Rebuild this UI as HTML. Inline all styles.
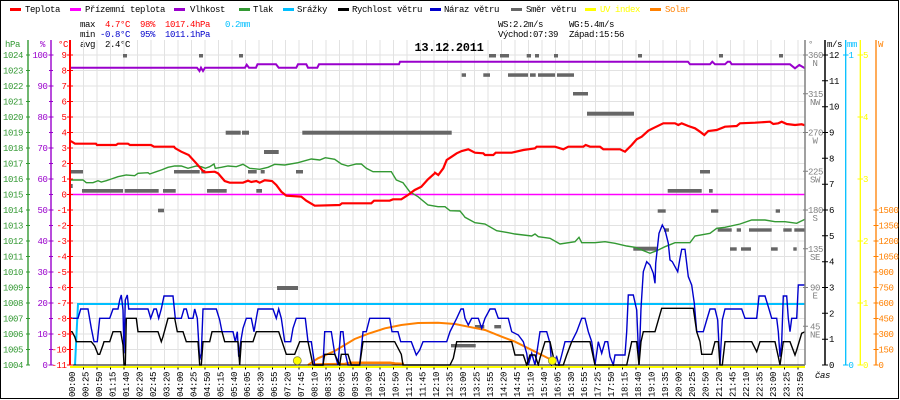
<!DOCTYPE html>
<html><head><meta charset="utf-8"><style>
html,body{margin:0;padding:0;background:#fff;}
svg{display:block;}
text{font-family:"Liberation Mono",monospace;font-size:9px;letter-spacing:-0.4px;}
</style></head><body>
<svg width="900" height="400" viewBox="0 0 900 400" xmlns="http://www.w3.org/2000/svg">
<rect x="0" y="0" width="900" height="400" fill="#fff"/>
<rect x="0.5" y="0.5" width="898" height="398" fill="none" stroke="#000" stroke-width="1"/>

<!-- legend -->
<g>
<rect x="10" y="8" width="11" height="3" fill="#ff0000"/><text x="25" y="12">Teplota</text>
<rect x="70" y="8" width="11" height="3" fill="#ff00ff"/><text x="85" y="12">Přízemní teplota</text>
<rect x="174" y="8" width="11" height="3" fill="#9900cc"/><text x="190" y="12">Vlhkost</text>
<rect x="239" y="8" width="11" height="3" fill="#339933"/><text x="253" y="12">Tlak</text>
<rect x="283" y="8" width="11" height="3" fill="#00bfff"/><text x="297" y="12">Srážky</text>
<rect x="338" y="8" width="11" height="3" fill="#000"/><text x="352" y="12">Rychlost větru</text>
<rect x="430" y="8" width="11" height="3" fill="#0000cc"/><text x="444" y="12">Náraz větru</text>
<rect x="511" y="8" width="11" height="3" fill="#666"/><text x="526" y="12">Směr větru</text>
<rect x="585" y="8" width="11" height="3" fill="#ffff00"/><text x="600" y="12" fill="#ffff00">UV index</text>
<rect x="650" y="8" width="11" height="3" fill="#ff8000"/><text x="665" y="12" fill="#ff8000">Solar</text>
</g>

<!-- stats -->
<text x="80" y="27">max</text>
<text x="105" y="27" fill="#ff0000">4.7°C</text>
<text x="140" y="27" fill="#ff0000">98%</text>
<text x="165" y="27" fill="#ff0000">1017.4hPa</text>
<text x="225" y="27" fill="#00bfff">0.2mm</text>
<text x="498" y="27">WS:2.2m/s</text>
<text x="569" y="27">WG:5.4m/s</text>
<text x="80" y="37">min</text>
<text x="100" y="37" fill="#0000cc">-0.8°C</text>
<text x="140" y="37" fill="#0000cc">95%</text>
<text x="165" y="37" fill="#0000cc">1011.1hPa</text>
<text x="498" y="37">Východ:07:39</text>
<text x="569" y="37">Západ:15:56</text>
<text x="80" y="47">avg</text>
<text x="105" y="47">2.4°C</text>
<text x="5" y="47" fill="#339933">hPa</text>
<text x="40" y="47" fill="#9900cc">%</text>
<text x="58" y="47" fill="#ff0000">°C</text>
<text x="808" y="47" fill="#808080">°</text>
<text x="827" y="47">m/s</text>
<text x="847" y="47" fill="#00bfff">mm</text>
<text x="878" y="47" fill="#ff8000">W</text>

<!-- grid -->
<path d="M83.5 40V365M97 40V365M110.5 40V365M124 40V365M137.5 40V365M151 40V365M164.5 40V365M178 40V365M191.5 40V365M205 40V365M218.5 40V365M232 40V365M245.5 40V365M259 40V365M272.5 40V365M285.5 40V365M299 40V365M312.5 40V365M326 40V365M339.5 40V365M353 40V365M366.5 40V365M380 40V365M393.5 40V365M407 40V365M420.5 40V365M434 40V365M447.5 40V365M461 40V365M474.5 40V365M488 40V365M501.5 40V365M515 40V365M528.5 40V365M542 40V365M555.5 40V365M569 40V365M582.5 40V365M595.5 40V365M609 40V365M622.5 40V365M636 40V365M649.5 40V365M663 40V365M676.5 40V365M690 40V365M703.5 40V365M717 40V365M730.5 40V365M744 40V365M757.5 40V365M771 40V365M784.5 40V365M798 40V365" stroke="#e2e2e2" stroke-width="1" fill="none"/>
<path d="M70 55H805M70 70.5H805M70 86H805M70 101.5H805M70 117H805M70 132.5H805M70 148H805M70 163.5H805M70 179H805M70 194.5H805M70 210H805M70 225.5H805M70 241H805M70 256.5H805M70 272H805M70 287.5H805M70 303H805M70 318.5H805M70 334H805M70 349.5H805" stroke="#e2e2e2" stroke-width="1" fill="none"/>

<!-- title -->
<text x="449" y="51" text-anchor="middle" style="font-size:12px;font-weight:bold;letter-spacing:-0.3px">13.12.2011</text>

<!-- wind direction rects -->
<g fill="#666">
<rect x="123" y="54" width="4" height="3.5"/><rect x="199" y="54" width="4" height="3.5"/><rect x="239" y="54" width="4" height="3.5"/>
<rect x="489" y="54" width="7" height="3.5"/><rect x="500" y="54" width="9" height="3.5"/><rect x="526.7" y="54" width="4.3" height="3.5"/>
<rect x="535" y="54" width="4" height="3.5"/><rect x="554" y="54" width="4" height="3.5"/><rect x="638" y="54" width="4" height="3.5"/>
<rect x="719" y="54" width="4" height="3.5"/><rect x="779" y="54" width="4" height="3.5"/>
<rect x="461.7" y="73.3" width="4.3" height="3.5"/><rect x="483.3" y="73.3" width="6.7" height="3.5"/><rect x="508" y="73.3" width="20" height="3.5"/>
<rect x="530" y="73.3" width="5.7" height="3.5"/><rect x="538" y="73.3" width="17" height="3.5"/><rect x="557" y="73.3" width="17" height="3.5"/>
<rect x="573" y="92" width="15" height="3.5"/>
<rect x="587" y="111.7" width="47" height="4"/>
<rect x="225.7" y="130.7" width="15" height="4"/><rect x="242" y="130.7" width="7" height="4"/><rect x="302.3" y="130.7" width="149.4" height="4"/>
<rect x="264" y="150" width="14.7" height="4"/>
<rect x="70.7" y="170" width="12.3" height="3.5"/><rect x="174" y="170" width="25.7" height="3.5"/><rect x="201.3" y="170" width="4" height="3.5"/>
<rect x="248" y="170" width="8.7" height="3.5"/><rect x="260.7" y="170" width="4" height="3.5"/><rect x="296" y="170" width="7" height="3.5"/>
<rect x="700" y="170" width="10" height="3.5"/>
<rect x="69" y="184" width="3.7" height="4"/>
<rect x="82" y="189" width="41" height="3.7"/><rect x="124.7" y="189" width="34" height="3.7"/><rect x="163" y="189" width="12.7" height="3.7"/>
<rect x="207" y="189" width="19.7" height="3.7"/><rect x="256.3" y="189" width="5.7" height="3.7"/><rect x="667.7" y="189" width="34" height="3.7"/>
<rect x="709" y="189" width="3.7" height="3.7"/>
<rect x="158" y="208.7" width="6" height="3.6"/><rect x="657.7" y="209.3" width="8" height="3.4"/><rect x="711" y="209.3" width="7.3" height="3.4"/>
<rect x="775.7" y="209.3" width="4.3" height="3.4"/>
<rect x="664" y="228.3" width="5" height="3.4"/><rect x="717.7" y="228.3" width="14" height="3.4"/><rect x="736.7" y="228.3" width="4.3" height="3.4"/>
<rect x="749" y="228.3" width="22.7" height="3.4"/><rect x="783.3" y="228.3" width="8.4" height="3.4"/><rect x="794.3" y="228.3" width="10.7" height="3.4"/>
<rect x="633.3" y="246.7" width="23.4" height="4"/><rect x="730" y="247.3" width="6.7" height="3.4"/><rect x="741" y="247.3" width="10" height="3.4"/>
<rect x="771" y="247.3" width="6.7" height="3.4"/><rect x="793.3" y="247.3" width="3.4" height="3.4"/>
<rect x="277" y="286" width="21" height="4"/>
<rect x="475" y="325" width="9.3" height="3.4"/><rect x="494.3" y="325" width="6.7" height="3.4"/>
<rect x="451" y="344" width="24.7" height="3.4"/>
</g>

<!-- apparent temp -->
<path d="M70 194.5H805" stroke="#ff00ff" stroke-width="1.5" fill="none"/>

<!-- rain -->
<path d="M75 365L78 304H805" stroke="#00bfff" stroke-width="2" fill="none"/>

<!-- humidity -->
<path d="M70.7,67.7 L197,67.7 L199.5,71 L201,67.7 L203,71 L205,67.7 L245,67.7 L246.7,64.7 L249,67.7 L256,67.7 L257.5,64.3 L276,64.3 L278.7,67.7 L296.3,67.7 L298,64.3 L306.3,64.3 L308,67.7 L317.3,67.7 L319,64.3 L399,64.3 L400,61.7 L688,61.7 L690,64.3 L710,64.3 L712.3,61.7 L715,64.3 L725,64.3 L727.7,61.7 L730,61.7 L731.7,64.3 L790,64.3 L795,68.3 L799.3,65 L805,68.3" stroke="#9900cc" stroke-width="2" fill="none"/>

<!-- pressure -->
<path d="M70.7,180 L83,180 L86.3,182.7 L93,182.7 L98,180.7 L101.3,182 L106.3,180.7 L111.3,179 L118,176.7 L126.3,175 L134.7,175.7 L138,173.3 L148,172.7 L149.7,174 L156.3,171.7 L161.3,170 L168,167.3 L174.7,166 L181.3,166 L188,168.3 L196.3,166 L201.3,166.7 L205.3,168.3 L209.7,166.7 L214,164 L215.3,168.3 L221.3,167.3 L228,166 L236.3,166.7 L243,164.3 L249.7,168.3 L259.7,169.3 L268,167.3 L274.7,164.3 L284.7,165 L298,162.7 L311.3,159 L319.7,160 L325.3,157.7 L334.7,159.3 L341.3,164 L348,166 L356.3,164 L361.3,164 L366.3,168.3 L373,171.7 L391.3,171.7 L396.3,180 L403,182.7 L409.7,191.7 L418,196.7 L428,205 L438,206.7 L445,206.7 L450,210.7 L460,211 L463.3,215 L465,217.3 L475,222.7 L485,224 L496.7,230.7 L508.3,232.7 L515,234 L531.7,236 L535,234 L538.3,236.7 L550,238.3 L560,244 L575,241.7 L579,237.3 L581.7,242.7 L595,242.7 L605,241.7 L615,243.3 L626.7,246 L635,247.3 L650,253.3 L656.7,250.7 L665,246.7 L675,242.7 L690,242.7 L695,236 L710,233.3 L716.7,228.3 L725,227.3 L740,224 L751.7,220 L765,220 L775,221.7 L785,221.7 L796.7,223.3 L805,219.3" stroke="#339933" stroke-width="1.4" fill="none"/>

<!-- temperature -->
<path d="M70.7,141 L75,143.7 L96,143.7 L97,145 L116,145 L118,143.7 L128,143.7 L130,145 L151,145 L154,146.7 L174,146.7 L175.3,148.3 L181.3,151.7 L188.7,155 L196.3,163.3 L203,171 L205.3,172.3 L214.7,171.7 L218,173.3 L224.7,181 L229.7,182.7 L243,182.7 L248,180.7 L251.3,182 L256.3,181 L259.7,182.7 L264.7,180.3 L272,181 L276.3,185 L281.3,191.7 L286.3,195.7 L301.3,196.7 L306.3,200.7 L314.7,205.7 L339.7,205 L342,203.3 L371.3,203.3 L374,200.7 L389.7,200.7 L393,199.3 L401.3,199.3 L408,195 L414.7,190 L421.3,186.7 L428,179.3 L434.7,173.3 L435,172.7 L438.3,175 L443.3,168.3 L446.7,160 L451.7,156.7 L456.7,153.3 L461.7,151 L468.3,149.3 L475,152.7 L483.3,153.3 L485,155 L493.3,155 L495.7,152.7 L511.7,152.7 L523.3,150 L535,148.3 L536.7,146.7 L555,146.7 L563.3,149.3 L568.3,146.7 L583.3,146.7 L585.7,145 L590,146.7 L600,146.7 L603.3,149.3 L620,149.3 L625,151.7 L631.7,145 L636.7,139.3 L641.7,136.7 L648.3,130.7 L655,127.3 L663.3,123.3 L675,123.3 L678.3,125 L681.7,123.3 L688.3,126 L695,128.3 L700,131.7 L704.3,135 L708.3,131 L716.7,130 L725,126.7 L736.7,126 L740,123.3 L755,122.7 L770,121.7 L773.3,124 L778.3,123.3 L781.7,121.7 L786.7,124 L795,125 L801.7,124.3 L805,125.3" stroke="#ff0000" stroke-width="2.2" fill="none"/>

<!-- solar -->
<path d="M308,365 L318,358.3 L334.7,351 L344.7,345 L354.7,339 L368,333.8 L385,328.3 L401.3,325 L418,323 L438,322.7 L455,324 L468.3,326.7 L485,330 L501.7,336.7 L515,341.7 L528.3,348.3 L541.7,355 L551.7,360" stroke="#ff8000" stroke-width="2" fill="none"/>
<path d="M313,364.5 L345,364 L350,362.7 L390,362.7 L395,363.5 L404,364" stroke="#ff8000" stroke-width="2.5" fill="none"/>

<!-- gust -->
<path d="M70,316.7 L71.3,318.3 L78,318.3 L80.7,309 L88,309 L91.3,328.3 L94,341.7 L97.3,341.7 L99.7,318.3 L109.7,318.3 L113,309 L118,309 L119.7,300 L121.3,295 L123,310 L124,353.3 L125.3,300 L127.3,295 L128.7,309 L148,309 L150.7,318.3 L154,309 L156.3,309 L158.7,318.3 L161.3,309 L164,296 L173,296 L175.3,318.3 L181.3,318.3 L184,309 L186.3,309 L188.7,318.3 L193,318.3 L194.7,309 L197.3,318.3 L199.7,360 L201.3,353.3 L203,309 L216.3,309 L219.7,320 L222,331.7 L233,331.7 L235.3,341.7 L237.3,331.7 L238.7,356.7 L240.7,341.7 L243,328.3 L246.3,318.3 L251.3,318.3 L254,331.7 L256.3,318.3 L258,309 L273,309 L276.3,318.3 L278.7,309 L281.3,318.3 L284.7,341.7 L290.7,341.7 L293,328.3 L296.3,318.3 L305.3,318.3 L308,341.7 L311.3,341.7 L314.7,365 L323,365 L324.7,331.7 L331.3,331.7 L334.7,353.3 L338,365 L340.7,331.7 L343,331.7 L345.3,353.3 L348,365 L359.7,365 L363,331.7 L366.3,331.7 L369.7,318.3 L389.7,318.3 L392,331.7 L398,331.7 L400.7,341.7 L411.3,341.7 L416.3,355 L419.7,350 L423,341.7 L446.7,341.7 L450,331.7 L456.7,318.3 L461,309 L463.3,309 L465,318.3 L468.3,325 L471.7,318.3 L478.3,318.3 L481.7,328.3 L485,318.3 L490,309 L495,309 L498.3,318.3 L508.3,318.3 L511.7,331.7 L518.3,335 L523.3,341.7 L526.7,353.3 L528.3,365 L531.7,353.3 L535,365 L540,331.7 L546.7,331.7 L550,343.3 L551.7,365 L556.7,356.7 L559,365 L561.7,355 L565,341.7 L571.7,341.7 L576.7,331.7 L581.7,318.3 L585,318.3 L588.3,331.7 L591.7,341.7 L595,365 L598.3,341.7 L601.7,353.3 L605,341.7 L607.7,341.7 L610,356.7 L613.3,365 L615,355 L625,355 L626.7,331.7 L628.3,295 L633.3,295 L636.7,310 L639,365 L641,308.3 L643.3,271.7 L646.7,261.7 L650,265 L653.3,273.3 L655,283.3 L655.7,263.3 L659,233.3 L662.3,225 L665,230 L668.3,243.3 L670,260 L672.3,261.7 L675,266.7 L677.7,271.7 L680,258.3 L681.7,249.3 L685,249.3 L688.3,276.7 L691.7,285 L694.3,303.3 L696.7,331.7 L703.3,331.7 L706.7,320 L710,309 L715,309 L717.7,320 L720,365 L722.3,320 L725,309 L741.7,309 L745,318.3 L756.7,318.3 L759,296 L765,296 L768.3,306.7 L771.7,318.3 L776.7,318.3 L778.3,331.7 L780,356.7 L781.7,341.7 L783.3,296 L786.7,296 L788.3,318.3 L790,331.7 L791.7,318.3 L796.7,318.3 L798.3,285 L805,285" stroke="#0000cc" stroke-width="1.4" fill="none"/>

<!-- wind speed -->
<path d="M70,331.7 L72,331.7 L74.7,336.7 L76.3,341.7 L91.3,341.7 L94.7,346 L98,354.3 L99.7,354.3 L103,345 L104,341.7 L109.7,341.7 L113,331.7 L120.7,331.7 L123,345 L124,365 L125.3,365 L126.3,318.3 L136.3,318.3 L138,331.7 L158,331.7 L161.3,341.7 L163,336.7 L168,318.3 L174.7,318.3 L177.3,331.7 L183,331.7 L186.3,341.7 L198,341.7 L199.7,365 L201.3,365 L203,341.7 L209.7,341.7 L212,331.7 L222,331.7 L224.7,341.7 L238,341.7 L239.7,365 L241.3,341.7 L253,341.7 L256.3,331.7 L278.7,331.7 L286.3,354.3 L294.7,354.3 L299.7,341.7 L308,341.7 L313,365 L323,365 L324.7,354.3 L334.7,354.3 L339.7,365 L341.3,354.3 L348,354.3 L351.3,365 L359.7,365 L363,341.7 L394.7,341.7 L401.3,354.3 L403,365 L450,365 L453.3,358.3 L456.7,341.7 L511.7,341.7 L515,355 L523.3,355 L526.7,365 L530,355 L535,355 L538.3,365 L540,358 L545,341.7 L550,341.7 L553.3,356.7 L555.7,365 L563.3,365 L566.7,355 L571.7,341.7 L590,341.7 L595,365 L626.7,365 L631.7,341.7 L636.7,341.7 L639,365 L641,341.7 L643.3,331.7 L655,331.7 L661.7,308.3 L693.3,308.3 L696.7,331.7 L700,341.7 L701.7,354.3 L711.7,354.3 L715,341.7 L718.3,341.7 L720,365 L722.3,365 L725,341.7 L751.7,341.7 L756.7,351.7 L760,341.7 L775,341.7 L778.3,356.7 L780,365 L783.3,341.7 L790,341.7 L795,355 L796.7,350 L801.7,333.3 L805,331.7" stroke="#000" stroke-width="1.4" fill="none"/>

<!-- bottom axis + UV -->
<path d="M70 365H805" stroke="#000" stroke-width="1"/>
<path d="M70 367H805" stroke="#ffff00" stroke-width="2"/>
<path d="M83.5 367.5v2M97 367.5v2M110.5 367.5v2M124 367.5v2M137.5 367.5v2M151 367.5v2M164.5 367.5v2M178 367.5v2M191.5 367.5v2M205 367.5v2M218.5 367.5v2M232 367.5v2M245.5 367.5v2M259 367.5v2M272.5 367.5v2M285.5 367.5v2M299 367.5v2M312.5 367.5v2M326 367.5v2M339.5 367.5v2M353 367.5v2M366.5 367.5v2M380 367.5v2M393.5 367.5v2M407 367.5v2M420.5 367.5v2M434 367.5v2M447.5 367.5v2M461 367.5v2M474.5 367.5v2M488 367.5v2M501.5 367.5v2M515 367.5v2M528.5 367.5v2M542 367.5v2M555.5 367.5v2M569 367.5v2M582.5 367.5v2M595.5 367.5v2M609 367.5v2M622.5 367.5v2M636 367.5v2M649.5 367.5v2M663 367.5v2M676.5 367.5v2M690 367.5v2M703.5 367.5v2M717 367.5v2M730.5 367.5v2M744 367.5v2M757.5 367.5v2M771 367.5v2M784.5 367.5v2M798 367.5v2" stroke="#000" stroke-width="1"/>
<circle cx="297.3" cy="360.7" r="4" fill="#ffff00" stroke="#8a8a3a" stroke-width="0.8"/>
<circle cx="552.3" cy="360.7" r="4" fill="#ffff00" stroke="#8a8a3a" stroke-width="0.8"/>

<!-- left axes -->
<path d="M28 40V365" stroke="#339933" stroke-width="1.4"/>
<path d="M51 40V365" stroke="#9900cc" stroke-width="1.4"/>
<path d="M70 40V365" stroke="#ff0000" stroke-width="2"/>
<path d="M26 55h4M26 70.5h4M26 86h4M26 101.5h4M26 117h4M26 132.5h4M26 148h4M26 163.5h4M26 179h4M26 194.5h4M26 210h4M26 225.5h4M26 241h4M26 256.5h4M26 272h4M26 287.5h4M26 303h4M26 318.5h4M26 334h4M26 349.5h4M26 365h4" stroke="#339933" stroke-width="1"/>
<path d="M48.5 55h5M49 70.5h4M48.5 86h5M49 101.5h4M48.5 117h5M49 132.5h4M48.5 148h5M49 163.5h4M48.5 179h5M49 194.5h4M48.5 210h5M49 225.5h4M48.5 241h5M49 256.5h4M48.5 272h5M49 287.5h4M48.5 303h5M49 318.5h4M48.5 334h5M49 349.5h4M48.5 365h5" stroke="#9900cc" stroke-width="1"/>
<path d="M67 55h6M67 70.5h6M67 86h6M67 101.5h6M67 117h6M67 132.5h6M67 148h6M67 163.5h6M67 179h6M67 194.5h6M67 210h6M67 225.5h6M67 241h6M67 256.5h6M67 272h6M67 287.5h6M67 303h6M67 318.5h6M67 334h6M67 349.5h6M67 365h6" stroke="#ff0000" stroke-width="1"/>

<g fill="#339933" text-anchor="end">
<text x="23" y="58">1024</text><text x="23" y="73.5">1023</text><text x="23" y="89">1022</text><text x="23" y="104.5">1021</text>
<text x="23" y="120">1020</text><text x="23" y="135.5">1019</text><text x="23" y="151">1018</text><text x="23" y="166.5">1017</text>
<text x="23" y="182">1016</text><text x="23" y="197.5">1015</text><text x="23" y="213">1014</text><text x="23" y="228.5">1013</text>
<text x="23" y="244">1012</text><text x="23" y="259.5">1011</text><text x="23" y="275">1010</text><text x="23" y="290.5">1009</text>
<text x="23" y="306">1008</text><text x="23" y="321.5">1007</text><text x="23" y="337">1006</text><text x="23" y="352.5">1005</text>
<text x="23" y="368">1004</text>
</g>
<g fill="#9900cc" text-anchor="end">
<text x="47.5" y="58">100</text><text x="47.5" y="89">90</text><text x="47.5" y="120">80</text><text x="47.5" y="151">70</text>
<text x="47.5" y="182">60</text><text x="47.5" y="213">50</text><text x="47.5" y="244">40</text><text x="47.5" y="275">30</text>
<text x="47.5" y="306">20</text><text x="47.5" y="337">10</text><text x="47.5" y="368">0</text>
</g>
<g fill="#ff0000" text-anchor="end">
<text x="66.5" y="58">9</text><text x="66.5" y="73.5">8</text><text x="66.5" y="89">7</text><text x="66.5" y="104.5">6</text>
<text x="66.5" y="120">5</text><text x="66.5" y="135.5">4</text><text x="66.5" y="151">3</text><text x="66.5" y="166.5">2</text>
<text x="66.5" y="182">1</text><text x="66.5" y="197.5">0</text><text x="66.5" y="213">-1</text><text x="66.5" y="228.5">-2</text>
<text x="66.5" y="244">-3</text><text x="66.5" y="259.5">-4</text><text x="66.5" y="275">-5</text><text x="66.5" y="290.5">-6</text>
<text x="66.5" y="306">-7</text><text x="66.5" y="321.5">-8</text><text x="66.5" y="337">-9</text><text x="66.5" y="352.5">-10</text>
<text x="66.5" y="368">-11</text>
</g>

<!-- right axes -->
<path d="M805 40V365" stroke="#808080" stroke-width="1.5"/>
<path d="M825 40V365" stroke="#000" stroke-width="1.5"/>
<path d="M845.7 40V365" stroke="#00bfff" stroke-width="1.3"/>
<path d="M860.3 40V365" stroke="#ffff00" stroke-width="1.3"/>
<path d="M876 40V365" stroke="#ff8000" stroke-width="1.3"/>
<path d="M803 55h5M803 93.75h5M803 132.5h5M803 171.25h5M803 210h5M803 248.75h5M803 287.5h5M803 326.25h5" stroke="#808080" stroke-width="1"/>
<path d="M822 55h6M822 80.8h6M822 106.7h6M822 132.5h6M822 158.3h6M822 184.2h6M822 210h6M822 235.8h6M822 261.7h6M822 287.5h6M822 313.3h6M822 339.2h6M822 365h6" stroke="#000" stroke-width="1"/>
<path d="M843 55h5.5M843 365h5.5" stroke="#00bfff" stroke-width="1"/>
<path d="M857.5 55h5.5M857.5 117h5.5M857.5 179h5.5M857.5 241h5.5M857.5 303h5.5M857.5 365h5.5" stroke="#ffff00" stroke-width="1"/>
<path d="M873.5 210h5M873.5 225.5h5M873.5 241h5M873.5 256.5h5M873.5 272h5M873.5 287.5h5M873.5 303h5M873.5 318.5h5M873.5 334h5M873.5 349.5h5M873.5 365h5" stroke="#ff8000" stroke-width="1"/>

<g fill="#808080" text-anchor="middle">
<text x="815.5" y="58">360</text><text x="815" y="66">N</text>
<text x="815.5" y="96.75">315</text><text x="815" y="104.75">NW</text>
<text x="815.5" y="135.5">270</text><text x="815" y="143.5">W</text>
<text x="815.5" y="174.25">225</text><text x="815" y="182.25">SW</text>
<text x="815.5" y="213">180</text><text x="815" y="221">S</text>
<text x="815.5" y="251.75">135</text><text x="815" y="259.75">SE</text>
<text x="815" y="290.5">90</text><text x="815" y="298.5">E</text>
<text x="815" y="329.25">45</text><text x="815" y="337.25">NE</text>
</g>
<g fill="#000">
<text x="829" y="58">12</text><text x="829" y="83.8">11</text><text x="829" y="109.7">10</text><text x="829" y="135.5">9</text>
<text x="829" y="161.3">8</text><text x="829" y="187.2">7</text><text x="829" y="213">6</text><text x="829" y="238.8">5</text>
<text x="829" y="264.7">4</text><text x="829" y="290.5">3</text><text x="829" y="316.3">2</text><text x="829" y="342.2">1</text>
<text x="829" y="368">0</text>
</g>
<g fill="#00bfff"><text x="848.5" y="58">1</text><text x="848.5" y="368">0</text></g>
<g fill="#ffff00">
<text x="863" y="58">5</text><text x="863" y="120">4</text><text x="863" y="182">3</text><text x="863" y="244">2</text><text x="863" y="306">1</text><text x="863" y="368">0</text>
</g>
<g fill="#ff8000">
<text x="878.5" y="213">1500</text><text x="878.5" y="228.5">1350</text><text x="878.5" y="244">1200</text><text x="878.5" y="259.5">1050</text>
<text x="878.5" y="275">900</text><text x="878.5" y="290.5">750</text><text x="878.5" y="306">600</text><text x="878.5" y="321.5">450</text>
<text x="878.5" y="337">300</text><text x="878.5" y="352.5">150</text><text x="878.5" y="368">0</text>
</g>
<text x="815" y="378" style="font-style:italic">čas</text>

<!-- x labels -->
<g fill="#000">
<text transform="translate(75,397) rotate(-90)">00:00</text>
<text transform="translate(88.5,397) rotate(-90)">00:25</text>
<text transform="translate(102,397) rotate(-90)">00:50</text>
<text transform="translate(115.4,397) rotate(-90)">01:15</text>
<text transform="translate(128.9,397) rotate(-90)">01:40</text>
<text transform="translate(142.4,397) rotate(-90)">02:20</text>
<text transform="translate(155.9,397) rotate(-90)">02:45</text>
<text transform="translate(169.4,397) rotate(-90)">03:20</text>
<text transform="translate(182.8,397) rotate(-90)">04:00</text>
<text transform="translate(196.3,397) rotate(-90)">04:25</text>
<text transform="translate(209.8,397) rotate(-90)">04:50</text>
<text transform="translate(223.3,397) rotate(-90)">05:15</text>
<text transform="translate(236.8,397) rotate(-90)">05:40</text>
<text transform="translate(250.2,397) rotate(-90)">06:05</text>
<text transform="translate(263.7,397) rotate(-90)">06:30</text>
<text transform="translate(277.2,397) rotate(-90)">06:55</text>
<text transform="translate(290.7,397) rotate(-90)">07:20</text>
<text transform="translate(304.2,397) rotate(-90)">07:45</text>
<text transform="translate(317.6,397) rotate(-90)">08:10</text>
<text transform="translate(331.1,397) rotate(-90)">08:35</text>
<text transform="translate(344.6,397) rotate(-90)">09:05</text>
<text transform="translate(358.1,397) rotate(-90)">09:35</text>
<text transform="translate(371.6,397) rotate(-90)">10:00</text>
<text transform="translate(385,397) rotate(-90)">10:25</text>
<text transform="translate(398.5,397) rotate(-90)">10:50</text>
<text transform="translate(412,397) rotate(-90)">11:20</text>
<text transform="translate(425.5,397) rotate(-90)">11:45</text>
<text transform="translate(439,397) rotate(-90)">12:10</text>
<text transform="translate(452.4,397) rotate(-90)">12:35</text>
<text transform="translate(465.9,397) rotate(-90)">13:00</text>
<text transform="translate(479.4,397) rotate(-90)">13:25</text>
<text transform="translate(492.9,397) rotate(-90)">13:55</text>
<text transform="translate(506.4,397) rotate(-90)">14:20</text>
<text transform="translate(519.8,397) rotate(-90)">14:45</text>
<text transform="translate(533.3,397) rotate(-90)">15:10</text>
<text transform="translate(546.8,397) rotate(-90)">15:40</text>
<text transform="translate(560.3,397) rotate(-90)">16:05</text>
<text transform="translate(573.8,397) rotate(-90)">16:30</text>
<text transform="translate(587.2,397) rotate(-90)">16:55</text>
<text transform="translate(600.7,397) rotate(-90)">17:25</text>
<text transform="translate(614.2,397) rotate(-90)">17:50</text>
<text transform="translate(627.7,397) rotate(-90)">18:15</text>
<text transform="translate(641.2,397) rotate(-90)">18:40</text>
<text transform="translate(654.6,397) rotate(-90)">19:10</text>
<text transform="translate(668.1,397) rotate(-90)">19:35</text>
<text transform="translate(681.6,397) rotate(-90)">20:00</text>
<text transform="translate(695.1,397) rotate(-90)">20:25</text>
<text transform="translate(708.6,397) rotate(-90)">20:50</text>
<text transform="translate(722,397) rotate(-90)">21:20</text>
<text transform="translate(735.5,397) rotate(-90)">21:45</text>
<text transform="translate(749,397) rotate(-90)">22:10</text>
<text transform="translate(762.5,397) rotate(-90)">22:35</text>
<text transform="translate(776,397) rotate(-90)">23:00</text>
<text transform="translate(789.4,397) rotate(-90)">23:25</text>
<text transform="translate(802.9,397) rotate(-90)">23:50</text>
</g>
</svg>
</body></html>
